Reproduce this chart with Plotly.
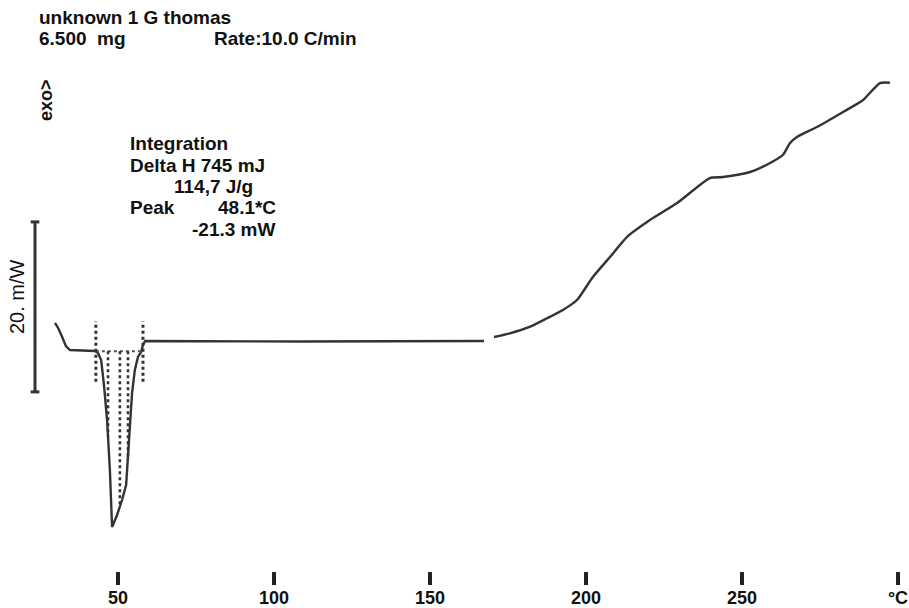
import numpy as np
import plotly.graph_objects as go

# ---- DSC heat-flow data (temperature in °C, heat flow in mW) ----
# first run: start-up hook, melting endotherm, flat section
temp_low = [29.8, 30.8, 32.1, 33.3, 34.6, 37.8, 42.6, 43.6, 44.6, 45.5, 46.5, 47.4, 48.1,
            49.7, 51.3, 52.6, 53.2, 53.8, 54.5, 55.4, 56.4, 57.4, 58.0, 58.7, 108.3, 167.3]
flow_low = [2.71, 2.12, 1.06, 0.0, -0.47, -0.53, -0.59, -0.82, -1.65, -4.59, -8.71, -14.59, -21.3,
            -19.88, -18.12, -16.35, -13.41, -9.53, -5.53, -2.82, -1.29, -0.71, 0.12, 0.59, 0.53, 0.59]

# second run: rising exothermic drift
temp_high = [170.5, 175.6, 182.1, 187.5, 192.6, 197.1, 202.2, 207.7, 213.1, 220.5, 229.2,
             239.7, 243.9, 252.6, 259.0, 263.1, 265.4, 267.6, 274.0, 282.4, 288.8, 294.2, 297.4]
flow_high = [1.06, 1.49, 2.27, 3.26, 4.24, 5.41, 8.12, 10.47, 12.82, 14.82, 16.82,
             19.76, 19.88, 20.47, 21.53, 22.47, 23.88, 24.59, 25.76, 27.53, 28.94, 30.94, 30.98]

# integration of the melting peak
int_limits = [42.9, 58.0]          # °C, start/end markers
limit_span = [-4.2, 2.9]           # mW, vertical extent of the markers
int_baseline = -0.62               # mW
hatch_temps = [46.8, 50.6, 53.2]   # °C, hatch lines between baseline and curve

# vertical scale bar
scale_bar_temp = 23.4
scale_bar_bottom = -5.4
scale_bar_mw = 20.0

tick_vals = [50, 100, 150, 200, 250, 300]
tick_text = ["50", "100", "150", "200", "250", "°C"]

header_lines = ["unknown 1 G thomas", "6.500\u00a0\u00a0mg", "Rate:10.0 C/min"]
integration_lines = ["Integration", "Delta H 745 mJ", "114,7 J/g", "Peak", "48.1*C", "-21.3 mW"]

# ---- figure geometry ----
W, H = 909, 608
ML, MR, MT, MB = 24, 5, 0, 23
PW, PH = W - ML - MR, H - MT - MB

def px(x):
    return (x - ML) / PW

def py(y):
    return (H - MB - y) / PH

INK = "#333333"
FONT = "Liberation Sans, Arial, sans-serif"

fig = go.Figure()

fig.add_trace(go.Scatter(x=temp_low, y=flow_low, mode="lines",
                         line=dict(color=INK, width=2.4), hoverinfo="skip"))
fig.add_trace(go.Scatter(x=temp_high, y=flow_high, mode="lines",
                         line=dict(color=INK, width=2.4, shape="spline", smoothing=0.6),
                         hoverinfo="skip"))

# integration baseline, limit markers and hatching
fig.add_trace(go.Scatter(x=int_limits, y=[int_baseline, int_baseline], mode="lines",
                         line=dict(color="#555555", width=2, dash="dot"), hoverinfo="skip"))
for t in int_limits:
    fig.add_trace(go.Scatter(x=[t, t], y=limit_span, mode="lines",
                             line=dict(color=INK, width=3, dash="dot"), hoverinfo="skip"))
for t in hatch_temps:
    depth = float(np.interp(t, temp_low, flow_low))
    fig.add_trace(go.Scatter(x=[t, t], y=[int_baseline, depth], mode="lines",
                             line=dict(color=INK, width=2.6, dash="dot"), hoverinfo="skip"))

# scale bar with end caps
cap = 1.4
bar_top = scale_bar_bottom + scale_bar_mw
fig.add_shape(type="line", x0=scale_bar_temp, x1=scale_bar_temp, y0=scale_bar_bottom, y1=bar_top,
              line=dict(color=INK, width=3))
for yv in (scale_bar_bottom, bar_top):
    fig.add_shape(type="line", x0=scale_bar_temp - cap, x1=scale_bar_temp + cap, y0=yv, y1=yv,
                  line=dict(color=INK, width=3))

annotations = []

def note(text, x, y, size=19, bold=True, angle=0, anchor="left"):
    annotations.append(dict(
        text=f"<b>{text}</b>" if bold else text, x=px(x), y=py(y), xref="paper", yref="paper",
        xanchor=anchor, yanchor="middle", showarrow=False, textangle=angle,
        font=dict(family=FONT, size=size, color="#111111")))

note(header_lines[0], 37, 17)
note(header_lines[1], 37, 39)
note(header_lines[2], 212, 39)

note(integration_lines[0], 128, 143)
note(integration_lines[1], 128, 165)
note(integration_lines[2], 172, 187)
note(integration_lines[3], 128, 208)
note(integration_lines[4], 216, 208)
note(integration_lines[5], 190, 229)

note("exo>", 46, 100, size=18, bold=True, angle=-90, anchor="center")
note("20. m/W", 17, 297, size=20, bold=False, angle=-90, anchor="center")

fig.update_layout(
    width=W, height=H,
    margin=dict(l=ML, r=MR, t=MT, b=MB, pad=0),
    paper_bgcolor="white", plot_bgcolor="white",
    showlegend=False,
    annotations=annotations,
    xaxis=dict(range=[19.87, 301.92], showgrid=False, zeroline=False, showline=False,
               ticks="inside", ticklen=13, tickwidth=3.5, tickcolor="#222222",
               tickvals=tick_vals, ticktext=tick_text,
               tickfont=dict(family=FONT, size=18, color="#111111", weight="bold")),
    yaxis=dict(range=[-28.12, 40.71], visible=False),
)

fig.write_html("out.html", config={"displayModeBar": False})
